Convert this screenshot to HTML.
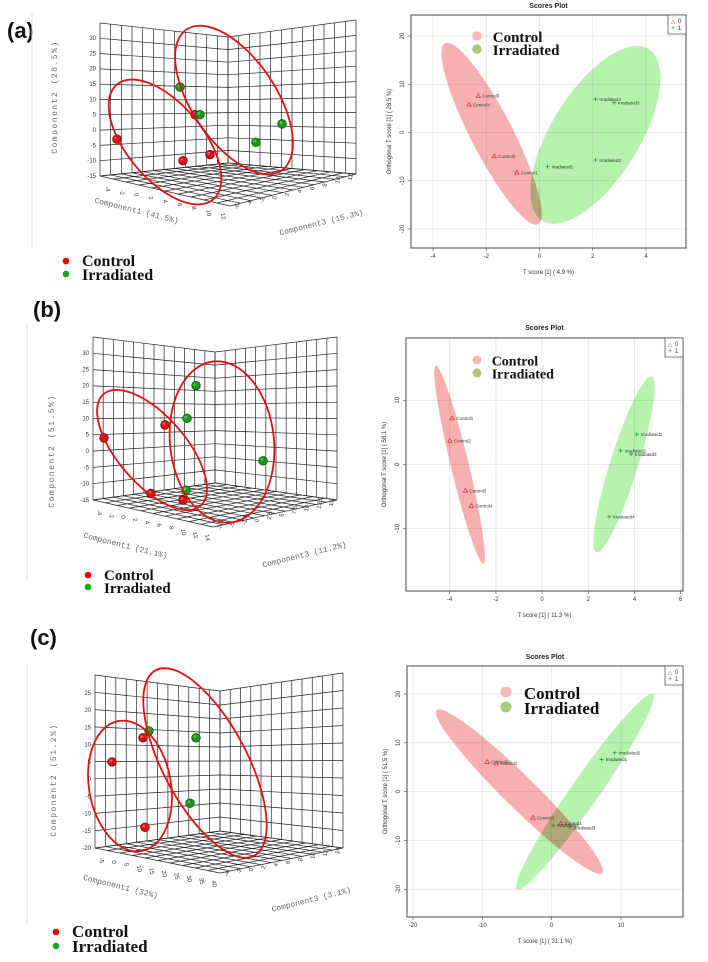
<!DOCTYPE html>
<html><head><meta charset="utf-8"><style>
html,body{margin:0;padding:0;background:#fff;}
svg{display:block;}
.tk{font-family:"Liberation Sans",sans-serif;font-size:6px;fill:#333;}
.ax{font-family:"Liberation Mono",monospace;font-size:8px;fill:#666;}
.lg{font-family:"Liberation Serif",serif;font-weight:bold;fill:#111;}
.pl{font-family:"Liberation Sans",sans-serif;font-weight:bold;font-size:22px;fill:#111;}
</style></head><body>
<svg id="fig" xmlns="http://www.w3.org/2000/svg" width="708" height="962" viewBox="0 0 708 962">
<text class="pl" x="7" y="38">(a)</text>
<text class="pl" x="33" y="317">(b)</text>
<text class="pl" x="30" y="645">(c)</text>
</svg>
<script>
// ===== Scores plot data =====
const aCtlNames=["Control1","Control2","Control3","Control4"];
const aCtlX=[-0.85,-1.7,-2.3,-2.65];
const aCtlY=[-8.3,-4.9,7.6,5.8];
const aIrrNames=["Irradiated1","Irradiated2","Irradiated3","Irradiated4"];
const aIrrX=[0.3,2.1,2.8,2.1];
const aIrrY=[-7.1,-5.7,6.2,6.9];
const aXTicks=[-4,-2,0,2,4];
const aYTicks=[20,10,0,-10,-20];

const bCtlNames=["Control1","Control2","Control3","Control4"];
const bCtlX=[-3.89,-3.99,-3.32,-3.06];
const bCtlY=[7.2,3.7,-4.1,-6.5];
const bIrrNames=["Irradiated1","Irradiated2","Irradiated3","Irradiated4"];
const bIrrX=[3.4,4.1,3.85,2.9];
const bIrrY=[2.1,4.7,1.6,-8.2];
const bXTicks=[-4,-2,0,2,4,6];
const bYTicks=[10,0,-10];

const cCtlNames=["Control2","Control1","Control3","Control4"];
const cCtlX=[-9.3,-8.0,-2.7,1.3];
const cCtlY=[6.1,5.8,-5.3,-6.5];
const cIrrNames=["Irradiated4","Irradiated2","Irradiated1","Irradiated3"];
const cIrrX=[0.23,9.1,7.2,2.6];
const cIrrY=[-6.9,8.0,6.6,-7.4];
const cXTicks=[-20,-10,0,10];
const cYTicks=[20,10,0,-10,-20];

// ===== 3D plot projected values (horizontal position, component2) =====
const a3RedH=[117,183,210,195];
const a3RedV=[-3,-10,-8,5];
const a3GrnH=[180,200,256,282];
const a3GrnV=[14,5,-4,2];
const b3RedH=[104,165,151,183];
const b3RedV=[4,8,-13,-15];
const b3GrnH=[196,187,263,186];
const b3GrnV=[20,10,-3,-12];
const c3RedH=[112,143,145];
const c3RedV=[5,12,-14];
const c3GrnH=[149,196,190];
const c3GrnV=[14,12,-7];

const NS="http://www.w3.org/2000/svg";
const svg=document.getElementById('fig');
function el(tag,attrs,parent,text){const e=document.createElementNS(NS,tag);for(const k in attrs)e.setAttribute(k,attrs[k]);if(text!==undefined)e.textContent=text;(parent||svg).appendChild(e);return e;}
function lerp(p,q,t){return [p[0]+(q[0]-p[0])*t,p[1]+(q[1]-p[1])*t];}

function quadGrid(g,TL,TR,BR,BL,nu,nv){
  for(let i=0;i<=nu;i++){const t=i/nu;const a=lerp(TL,TR,t),b=lerp(BL,BR,t);
    el('line',{x1:a[0],y1:a[1],x2:b[0],y2:b[1],stroke:'#222','stroke-width':0.7},g);}
  for(let j=0;j<=nv;j++){const t=j/nv;const a=lerp(TL,BL,t),b=lerp(TR,BR,t);
    el('line',{x1:a[0],y1:a[1],x2:b[0],y2:b[1],stroke:'#222','stroke-width':0.7},g);}
}

function plot3D(p){
  const g=el('g',{});
  
  
  el('line',{x1:p.sep,y1:p.sepY[0],x2:p.sep,y2:p.sepY[1],stroke:'#ddd','stroke-width':1},g);
  quadGrid(g,p.LT,p.BT,p.BB,p.LB,12,p.rows);
  quadGrid(g,p.BT,p.RT,p.RB,p.BB,12,p.rows);
  quadGrid(g,p.LB,p.BB,p.RB,p.F,12,10);
  const vs=v=>p.LB[1]-(v-p.vmin)/(p.vmax-p.vmin)*(p.LB[1]-p.vTopY);
  for(const v of p.yticks){const t=el('text',{class:'tk','text-anchor':'end',x:p.LB[0]-4,y:vs(v)+2},g,String(v));
    }
  p.c1ticks.forEach((v,i)=>{const q=lerp(p.LB,p.F,(i+0.5)/p.c1ticks.length);
    el('text',{class:'tk',x:q[0]-2,y:q[1]+9,transform:`rotate(80 ${q[0]-2} ${q[1]+9})`,fill:'#555'},g,String(v));});
  p.c3ticks.forEach((v,i)=>{const q=lerp(p.F,p.RB,(i+0.5)/p.c3ticks.length);
    el('text',{class:'tk',x:q[0]+2,y:q[1]+5,transform:`rotate(-80 ${q[0]+2} ${q[1]+5})`,fill:'#555'},g,String(v));});
  const t2=el('text',{class:'ax','text-anchor':'middle',x:p.t2[0],y:p.t2[1],transform:`rotate(-90 ${p.t2[0]} ${p.t2[1]})`,'letter-spacing':'1.5'},g,p.t2s);
  
  const t1=el('text',{class:'ax','text-anchor':'middle',x:p.t1[0],y:p.t1[1],transform:`rotate(14 ${p.t1[0]} ${p.t1[1]})`},g,p.t1s);
  
  const t3=el('text',{class:'ax','text-anchor':'middle',x:p.t3[0],y:p.t3[1],transform:`rotate(-14 ${p.t3[0]} ${p.t3[1]})`},g,p.t3s);
  
  function sph(h,v,col,dark){const y=vs(v);
    const c=el('circle',{cx:h,cy:y,r:4.3,fill:col,stroke:dark,'stroke-width':0.8},g);
    
    el('circle',{cx:h-1.2,cy:y-1.3,r:1.3,fill:'#fff',opacity:0.35},g);}
  p.rh.forEach((h,i)=>sph(h,p.rv[i],'#d11','#700'));
  p.gh.forEach((h,i)=>sph(h,p.gv[i],'#1a9a1a','#0a5a0a'));
  for(const e of p.ells){const E=el('ellipse',{cx:0,cy:0,rx:e[2],ry:e[3],fill:'none',stroke:'#e01010','stroke-width':1.8,transform:`translate(${e[0]} ${e[1]}) rotate(${e[4]})`},g);
    }
  const L=p.leg;
  el('circle',{cx:L[0],cy:L[1],r:3.3,fill:'#e00'},g);
  el('circle',{cx:L[0],cy:L[1]+L[3],r:3.3,fill:'#1a1'},g);
  const l1=el('text',{class:'lg',x:L[0]+16,y:L[1]+5,'font-size':L[2]},g,'Control');
  
  const l2=el('text',{class:'lg',x:L[0]+16,y:L[1]+L[3]+6,'font-size':L[2]},g,'Irradiated');
  
}

plot3D({name:'plot3d-a',sep:32,sepY:[13,247],LT:[100,23],LB:[100,176],BT:[228,37],BB:[228,163],RT:[356,20],RB:[356,174],F:[230,206],rows:10,
  vmin:-15,vmax:30,vTopY:38,yticks:[30,25,20,15,10,5,0,-5,-10,-15],
  c1ticks:[-4,-2,0,2,4,6,8,10,12],c3ticks:[-6,-4,-2,0,2,4,6,8,10,12],
  t2:[57,97],t2s:'Component2 (28.5%)',t1:[136,213],t1s:'Component1 (41.5%)',t3:[322,225],t3s:'Component3 (15.3%)',
  rh:a3RedH,rv:a3RedV,gh:a3GrnH,gv:a3GrnV,
  ells:[[165,142,75,38,50],[234,100,85,42,56]],leg:[66,261,16,13]});
plot3D({name:'plot3d-b',sep:27,sepY:[325,580],LT:[93,337],LB:[93,500],BT:[215,352],BB:[215,483],RT:[337,337],RB:[337,500],F:[213,527],rows:10,
  vmin:-15,vmax:30,vTopY:353,yticks:[30,25,20,15,10,5,0,-5,-10,-15],
  c1ticks:[-4,-2,0,2,4,6,8,10,12,14],c3ticks:[-7.5,-5,-2.5,0,2.5,5,7.5,10,12.5,15],
  t2:[54,451],t2s:'Component2 (51.5%)',t1:[125,548],t1s:'Component1 (21.1%)',t3:[305,557],t3s:'Component3 (11.2%)',
  rh:b3RedH,rv:b3RedV,gh:b3GrnH,gv:b3GrnV,
  ells:[[152,450,74,34,49],[222,442,81,52,84]],leg:[88,575,15,12]});
plot3D({name:'plot3d-c',sep:27,sepY:[663,925],LT:[95,675],LB:[95,848],BT:[220,691],BB:[220,831],RT:[343,673],RB:[343,848],F:[220,873],rows:10,
  vmin:-20,vmax:25,vTopY:693,yticks:[25,20,15,10,5,0,-5,-10,-15,-20],
  c1ticks:[-5,0,5,10,15,20,25,30,35,40],c3ticks:[-4,-2,0,2,4,6,8,10,12,14],
  t2:[56,780],t2s:'Component2 (51.2%)',t1:[120,889],t1s:'Component1 (32%)',t3:[312,902],t3s:'Component3 (3.1%)',
  rh:c3RedH,rv:c3RedV,gh:c3GrnH,gv:c3GrnV,
  ells:[[130,786,66,41,80],[205,763,105,42,62]],leg:[56,932,17,14]});

function scores(p){
  const g=el('g',{});
  
  
  const X=v=>p.x0+(v-p.xv0)*(p.x1-p.x0)/(p.xv1-p.xv0);
  const Y=v=>p.y0+(v-p.yv0)*(p.y1-p.y0)/(p.yv1-p.yv0);
  const tt=el('text',{x:(p.box[0]+p.box[2])/2,y:p.titleY,'text-anchor':'middle','font-family':'Liberation Sans, sans-serif','font-size':7,'font-weight':'bold',fill:'#222'},g,'Scores Plot');
  
  for(const v of p.xt){el('line',{x1:X(v),y1:p.box[1],x2:X(v),y2:p.box[3],stroke:'#e4e4e4','stroke-width':0.8},g);
    const t=el('text',{x:X(v),y:p.box[3]+10,'text-anchor':'middle',class:'tk'},g,String(v));
    
    el('line',{x1:X(v),y1:p.box[3],x2:X(v),y2:p.box[3]+3,stroke:'#444','stroke-width':0.6},g);}
  for(const v of p.yt){el('line',{x1:p.box[0],y1:Y(v),x2:p.box[2],y2:Y(v),stroke:'#e4e4e4','stroke-width':0.8},g);
    const xx=p.box[0]-7;const t=el('text',{x:xx,y:Y(v),'text-anchor':'middle',class:'tk',transform:`rotate(-90 ${xx} ${Y(v)})`},g,String(v));
    
    el('line',{x1:p.box[0]-3,y1:Y(v),x2:p.box[0],y2:Y(v),stroke:'#444','stroke-width':0.6},g);}
  function ell(e,col,nm){const a=[X(e[0]),Y(e[1])],b=[X(e[2]),Y(e[3])];
    const cx=(a[0]+b[0])/2,cy=(a[1]+b[1])/2,rx=Math.hypot(b[0]-a[0],b[1]-a[1])/2,ang=Math.atan2(b[1]-a[1],b[0]-a[0])*180/Math.PI;
    const E=el('ellipse',{cx:0,cy:0,rx:rx,ry:e[4],fill:col,transform:`translate(${cx} ${cy}) rotate(${ang})`,style:'mix-blend-mode:multiply'},g);
    }
  ell(p.rEll,'#f7b0b0','control-confidence-ellipse');
  ell(p.gEll,'#b6f2ae','irradiated-confidence-ellipse');
  p.cx.forEach((v,i)=>{const x=X(v),y=Y(p.cy[i]);
    const m=el('path',{d:`M${x} ${y-2.2}L${x+2.2} ${y+1.6}L${x-2.2} ${y+1.6}Z`,fill:'none',stroke:'#d03030','stroke-width':0.7},g);
    
    el('text',{x:x+4,y:y+1.8,'font-family':'Liberation Sans, sans-serif','font-size':4.5,fill:'#333'},g,p.cn[i]);});
  p.gx.forEach((v,i)=>{const x=X(v),y=Y(p.gy[i]);
    const m=el('path',{d:`M${x-2} ${y}H${x+2}M${x} ${y-2}V${y+2}`,stroke:'#20a020','stroke-width':0.8},g);
    
    el('text',{x:x+4,y:y+1.8,'font-family':'Liberation Sans, sans-serif','font-size':4.5,fill:'#333'},g,p.gn[i]);});
  el('rect',{x:p.box[0],y:p.box[1],width:p.box[2]-p.box[0],height:p.box[3]-p.box[1],fill:'none',stroke:'#444','stroke-width':1},g);
  const lx=p.box[2]-18,ly=p.box[1];
  const lb=el('rect',{x:lx,y:ly,width:18,height:19,fill:'#fff',stroke:'#444','stroke-width':0.7},g);
  
  el('text',{x:lx+3,y:ly+8,'font-family':'DejaVu Sans, sans-serif','font-size':5.5,fill:'#d03030'},g,'△');
  el('text',{x:lx+10,y:ly+8,'font-family':'Liberation Sans, sans-serif','font-size':6,fill:'#333'},g,'0');
  el('text',{x:lx+3,y:ly+15,'font-family':'Liberation Sans, sans-serif','font-size':7,fill:'#20a020'},g,'+');
  el('text',{x:lx+10,y:ly+15,'font-family':'Liberation Sans, sans-serif','font-size':6,fill:'#333'},g,'1');
  const xl=el('text',{x:(p.box[0]+p.box[2])/2,y:p.xlY,'text-anchor':'middle','font-family':'Liberation Sans, sans-serif','font-size':6,fill:'#333'},g,p.xl);
  
  const yx=p.box[0]-20,yy=(p.box[1]+p.box[3])/2;
  const yl=el('text',{x:yx,y:yy,'text-anchor':'middle','font-family':'Liberation Sans, sans-serif','font-size':6,fill:'#333',transform:`rotate(-90 ${yx} ${yy})`},g,p.yl);
  
  const L=p.leg;
  el('circle',{cx:L[0],cy:L[1],r:L[2]*0.32,fill:'#f8b8b8'},g);
  el('circle',{cx:L[0],cy:L[1]+L[3],r:L[2]*0.32,fill:'#a8c87a'},g);
  const a1=el('text',{class:'lg',x:L[0]+L[2]*1.05,y:L[1]+L[2]*0.4,'font-size':L[2]},g,'Control');
  
  const a2=el('text',{class:'lg',x:L[0]+L[2]*1.05,y:L[1]+L[3]+L[2]*0.4,'font-size':L[2]},g,'Irradiated');
  
}

scores({name:'scores-plot-a',box:[411,15,686,248],x0:433,x1:646,xv0:-4,xv1:4,y0:36,y1:229,yv0:20,yv1:-20,
  xt:aXTicks,yt:aYTicks,titleY:8,xlY:274,xl:'T score [1] ( 4.9 %)',yl:'Orthogonal T score [1] ( 28.5 %)',
  rEll:[-3.55,18.5,-0.05,-19,21],gEll:[0.1,-18.3,4.1,17.3,44],
  cx:aCtlX,cy:aCtlY,cn:aCtlNames,gx:aIrrX,gy:aIrrY,gn:aIrrNames,leg:[477,36,15,13]});
scores({name:'scores-plot-b',box:[406,338,683,591],x0:449.7,x1:680.7,xv0:-4,xv1:6,y0:400.3,y1:528.3,yv0:10,yv1:-10,
  xt:bXTicks,yt:bYTicks,titleY:330,xlY:617,xl:'T score [1] ( 11.3 %)',yl:'Orthogonal T score [1] ( 58.1 %)',
  rEll:[-4.6,15.4,-2.54,-15.5,9],gEll:[4.74,13.7,2.35,-13.75,14],
  cx:bCtlX,cy:bCtlY,cn:bCtlNames,gx:bIrrX,gy:bIrrY,gn:bIrrNames,leg:[477,360,14,13]});
scores({name:'scores-plot-c',box:[407,666,683,917],x0:413,x1:621,xv0:-20,xv1:10,y0:694,y1:889.3,yv0:20,yv1:-20,
  xt:cXTicks,yt:cYTicks,titleY:659,xlY:943,xl:'T score [1] ( 31.1 %)',yl:'Orthogonal T score [1] ( 51.5 %)',
  rEll:[-16.6,16.7,7.3,-16.7,16],gEll:[14.6,20,-5,-20,14],
  cx:cCtlX,cy:cCtlY,cn:cCtlNames,gx:cIrrX,gy:cIrrY,gn:cIrrNames,leg:[506,692,17,15]});
</script>
</body></html>
